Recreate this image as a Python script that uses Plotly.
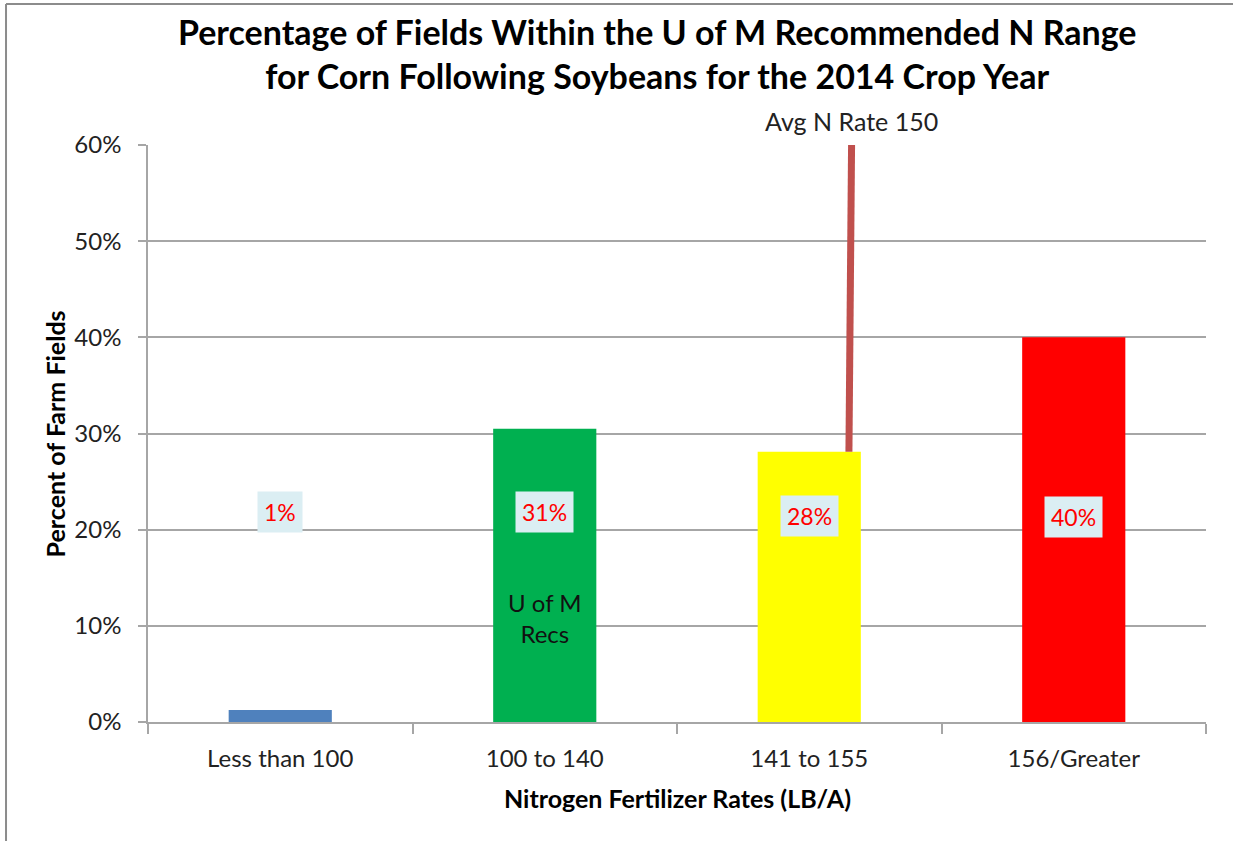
import plotly.graph_objects as go

categories = ['Less than 100', '100 to 140', '141 to 155', '156/Greater']
pct_fields = [1.25, 30.5, 28.1, 40.0]
bar_labels = ['1%', '31%', '28%', '40%']
bar_colors = ['#4F81BD', '#00B050', '#FFFF00', '#FF0000']

# avg N rate marker, drawn on a hidden numeric axis (category index units)
avg_line_x = [2.16, 2.15]
avg_line_y = [60, 28.1]
avg_label = 'Avg N Rate 150'

FONT = 'Lato'
GRID = '#A6A6A6'

fig = go.Figure()
fig.add_trace(go.Bar(
    x=categories, y=pct_fields, marker=dict(color=bar_colors, line=dict(width=0)),
    width=0.39, showlegend=False, hoverinfo='skip'))
fig.add_trace(go.Scatter(
    x=avg_line_x, y=avg_line_y, mode='lines', xaxis='x2',
    line=dict(color='#C0504D', width=7), showlegend=False, hoverinfo='skip'))

annotations = []
for cat, lab, yy in zip(categories, bar_labels, [21.8, 21.8, 21.4, 21.3]):
    annotations.append(dict(
        x=cat, y=yy, xref='x', yref='y', text=lab, showarrow=False,
        font=dict(family=FONT, size=23, color='#FF0000'),
        bgcolor='#DBEEF3', borderpad=6))
annotations.append(dict(
    x=categories[1], y=10.8, xref='x', yref='y', text='U of M<br>Recs',
    showarrow=False, font=dict(family=FONT, size=24, color='#111111')))
annotations.append(dict(
    x=avg_line_x[0], y=60, xref='x2', yref='y', text=avg_label,
    showarrow=False, yanchor='bottom', yshift=7,
    font=dict(family=FONT, size=25, color='#222222')))
annotations.append(dict(
    x=0.5, y=-0.132, xref='paper', yref='paper', xanchor='center', yanchor='middle',
    text='<b>Nitrogen Fertilizer Rates (LB/A)</b>',
    showarrow=False, font=dict(family=FONT, size=25, color='#000000')))
annotations.append(dict(
    x=-0.088, y=0.5, xref='paper', yref='paper', xanchor='center', yanchor='middle',
    text='<b>Percent of Farm Fields</b>',
    showarrow=False, textangle=-90, font=dict(family=FONT, size=25, color='#000000')))

fig.update_layout(
    width=1233, height=841,
    margin=dict(l=148, r=27, t=145, b=119),
    paper_bgcolor='white', plot_bgcolor='white',
    title=dict(
        text='<b>Percentage of Fields Within the U of M Recommended N Range<br>'
             'for Corn Following Soybeans for the 2014 Crop Year</b>',
        x=0.533, xanchor='center', y=1 - 45 / 841, yanchor='middle',
        font=dict(family=FONT, size=34, color='#000000')),
    xaxis=dict(
        type='category', showgrid=False, showline=True, linecolor=GRID, linewidth=1.5,
        ticks='outside', tickson='boundaries', ticklen=10, tickcolor=GRID, tickwidth=1.5,
        ticklabelstandoff=14,
        tickfont=dict(family=FONT, size=24, color='#222222'), fixedrange=True),
    xaxis2=dict(overlaying='x', range=[-0.5, 3.5], visible=False, fixedrange=True),
    yaxis=dict(
        range=[0, 60], dtick=10, ticksuffix='%', showgrid=True, gridcolor=GRID,
        gridwidth=1.5, showline=True, linecolor=GRID, linewidth=1.5,
        ticks='outside', ticklen=8, tickcolor=GRID, tickwidth=1.5, zeroline=False,
        ticklabelstandoff=12,
        tickfont=dict(family=FONT, size=24, color='#222222'), fixedrange=True),
    annotations=annotations,
    shapes=[
        dict(type='line', xref='paper', yref='paper', x0=-0.1342, x1=-0.1342,
             y0=-0.21, y1=1.2444, line=dict(color='#8C8C8C', width=2)),
        dict(type='line', xref='paper', yref='paper', x0=-0.1342, x1=1.03,
             y0=1.2444, y1=1.2444, line=dict(color='#8C8C8C', width=2)),
    ],
)

# drop the browser's default 8px body margin so the figure sits at 0,0
fig.write_html('out.html', config={'displayModeBar': False},
               post_script="document.body.style.margin='0';")
